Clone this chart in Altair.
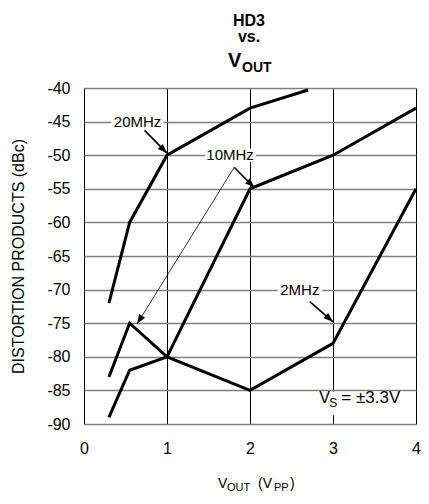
import math
import altair as alt
import pandas as pd

# ---- data ----
x_20 = [0.3, 0.55, 1.0, 2.0, 2.7]
y_20 = [-72, -60, -50, -43, -40.3]
x_10 = [0.3, 0.55, 1.0, 2.0, 3.0, 4.0]
y_10 = [-83, -75, -80, -55, -50, -43]
x_2 = [0.3, 0.55, 1.0, 2.0, 3.0, 4.0]
y_2 = [-89, -82, -80, -85, -78, -55]

x_ticks = [0, 1, 2, 3, 4]
y_ticks = [-90, -85, -80, -75, -70, -65, -60, -55, -50, -45, -40]

label_text = ["20MHz", "10MHz", "2MHz"]
label_x = [0.645, 1.76, 2.6]
label_y = [-45, -50, -70]
box_x1 = [0.33, 1.46, 2.33]
box_x2 = [0.96, 2.07, 2.87]

# arrows: start (x, y) -> tip (x, y), line width
arr_x1 = [0.73, 1.81, 1.81, 2.72]
arr_y1 = [-46.3, -51.8, -51.8, -71.8]
arr_x2 = [1.0, 2.05, 0.64, 3.0]
arr_y2 = [-49.7, -54.8, -75.1, -74.8]
arr_w = [1.6, 1.6, 0.8, 1.6]

W, H = 332, 336
PX_X = W / 4.0
PX_Y = H / 50.0

FONT = "Liberation Sans"

xs = alt.Scale(domain=[0, 4], nice=False, zero=False)
ys = alt.Scale(domain=[-90, -40], nice=False, zero=False)

X_AX = alt.Axis(values=x_ticks, format="d", labelFontSize=16, labelPadding=16,
                ticks=False, domain=False, grid=True, gridColor="black",
                gridWidth=1, labelFlush=False, labelOverlap=False, title=None,
                labelFont=FONT, labelColor="black")
Y_AX = alt.Axis(values=y_ticks, labelExpr="'' + datum.value",
                labelFontSize=16, labelPadding=14,
                ticks=False, domain=False, grid=True, gridColor="#808080",
                gridWidth=1.6, labelFlush=False, labelOverlap=False,
                labelFont=FONT, labelColor="black",
                title="DISTORTION PRODUCTS (dBc)", titleFontSize=16,
                titleFontWeight="normal", titleFont=FONT, titleColor="black",
                titleAngle=270, titleX=-66, titleY=H / 2,
                titleAlign="center", titleBaseline="middle")


def X(f):
    return alt.X(f, scale=xs, axis=X_AX)


def Y(f):
    return alt.Y(f, scale=ys, axis=Y_AX)


rows = []
for name, xv, yv in [("20MHz", x_20, y_20), ("10MHz", x_10, y_10), ("2MHz", x_2, y_2)]:
    for i, (a, b) in enumerate(zip(xv, yv)):
        rows.append({"series": name, "x": a, "y": b, "i": i})
curves = pd.DataFrame(rows)

boxes = pd.DataFrame({
    "x1": box_x1 + [2.81], "x2": box_x2 + [3.88],
    "y1": [v - 1.0 for v in label_y] + [-85.2],
    "y2": [v + 1.0 for v in label_y] + [-88.7],
})

arrows = pd.DataFrame({"x1": arr_x1, "y1": arr_y1, "x2": arr_x2, "y2": arr_y2, "w": arr_w})
arrows["angle"] = [
    math.degrees(math.atan2((b - a) * PX_X, (d - c) * PX_Y)) % 360
    for a, b, c, d in zip(arr_x1, arr_x2, arr_y1, arr_y2)
]

labels = pd.DataFrame({"t": label_text, "x": label_x, "y": label_y})

base = alt.Chart()

rects = alt.Chart(boxes).mark_rect(color="white").encode(
    x=X("x1:Q"), x2="x2:Q", y=Y("y1:Q"), y2="y2:Q",
)

arrow_lines = alt.Chart(arrows).mark_rule(color="black").encode(
    x=X("x1:Q"), y=Y("y1:Q"), x2="x2:Q", y2="y2:Q",
    strokeWidth=alt.StrokeWidth("w:Q", scale=None),
)

heads = alt.Chart(arrows).mark_point(
    shape="M0,0L-0.75,2L0.75,2Z", filled=True, color="black", opacity=1,
    size=90, strokeWidth=0,
).encode(
    x=X("x2:Q"), y=Y("y2:Q"),
    angle=alt.Angle("angle:Q", scale=None),
)

lines = alt.Chart(curves).mark_line(color="black", strokeWidth=3, strokeJoin="miter").encode(
    x=X("x:Q"), y=Y("y:Q"), detail="series:N", order="i:Q",
)

lbl = alt.Chart(labels).mark_text(fontSize=15, font=FONT, color="black",
                                  align="center", baseline="middle").encode(
    x=X("x:Q"), y=Y("y:Q"), text="t:N",
)

# V_S = ±3.3V annotation pieces
vs_text = ["V", "S", "= ±3.3V"]
vs_x = [2.835, 2.955, 3.1]
vs_y = [-86.91, -87.5, -86.91]
vs_fs = [16, 12, 17]
vs_parts = []
for t, a, b, fs in zip(vs_text, vs_x, vs_y, vs_fs):
    vs_parts.append(
        alt.Chart(pd.DataFrame({"t": [t], "x": [a], "y": [b]})).mark_text(
            fontSize=fs, font=FONT, color="black", align="left", baseline="alphabetic"
        ).encode(x=X("x:Q"), y=Y("y:Q"), text="t:N")
    )


# title and x-axis title (with subscripts), placed in pixel space around the plot
def ptext(t, x, y, size, bold=False, align="left"):
    return base.mark_text(text=t, fontSize=size, font=FONT, color="black",
                          fontWeight="bold" if bold else "normal",
                          align=align, baseline="alphabetic").encode(
        x=alt.value(x), y=alt.value(y))


title_parts = [
    ptext("HD3", 165, -62, 16, True, "center"),
    ptext("vs.", 165, -46, 16, True, "center"),
    ptext("V", 144, -21, 20, True),
    ptext("OUT", 158, -16, 14, True),
]
xtitle_parts = [
    ptext("V", 134, 400, 14),
    ptext("OUT", 143, 403, 11),
    ptext("(V", 174, 400, 14),
    ptext("PP", 190, 403, 11),
    ptext(")", 206, 400, 14),
]

chart = alt.layer(rects, arrow_lines, heads, lines, lbl, *vs_parts, *title_parts, *xtitle_parts).properties(
    width=W, height=H,
    autosize=alt.AutoSizeParams(type="none"),
    padding={"left": 76, "top": 80, "right": 5, "bottom": 68},
).configure_view(stroke="black", strokeWidth=2).configure(background="white")

chart.save("out.html", embed_options={"renderer": "svg", "actions": False})
